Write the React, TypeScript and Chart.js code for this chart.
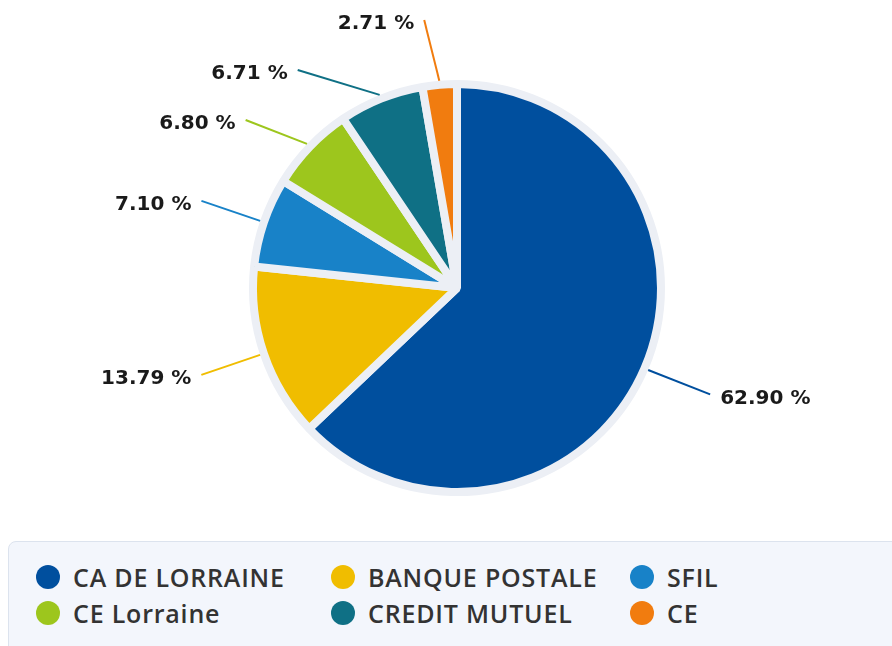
import React, { useEffect, useRef } from "react";
import { Chart, registerables } from "chart.js";

Chart.register(...registerables);

const categories = ["CA DE LORRAINE", "BANQUE POSTALE", "SFIL", "CE Lorraine", "CREDIT MUTUEL", "CE"];
const values = [62.9, 13.79, 7.1, 6.8, 6.71, 2.71];
const valueLabels = ["62.90 %", "13.79 %", "7.10 %", "6.80 %", "6.71 %", "2.71 %"];
const colors = ["#004f9e", "#f0bd00", "#1882c8", "#9dc61d", "#0f7085", "#f17c0f"];

const labelPlugin = {
  id: "pieLabels",
  afterDatasetsDraw(chart: any) {
    const ctx = chart.ctx;
    const meta = chart.getDatasetMeta(0);
    const arcs = meta.data;
    if (!arcs.length) return;
    const cx = arcs[0].x;
    const cy = arcs[0].y;
    const outer = arcs[0].outerRadius;
    const R = outer + 66;
    const gap = 50;
    const topLimit = 20;
    const items = arcs.map((a: any, i: number) => {
      const mid = (a.startAngle + a.endAngle) / 2;
      const left = Math.cos(mid) < 0;
      return { i, mid, left, y: cy + R * Math.sin(mid) };
    });
    [true, false].forEach((side) => {
      const s = items.filter((it: any) => it.left === side).sort((a: any, b: any) => a.y - b.y);
      let prev = -Infinity;
      s.forEach((it: any) => {
        it.y = Math.max(it.y, prev + gap, topLimit);
        prev = it.y;
      });
    });
    ctx.save();
    items.forEach((it: any) => {
      const dy = it.y - cy;
      const dx = Math.sqrt(Math.max(R * R - dy * dy, 0));
      const ex = cx + (it.left ? -dx : dx + 5);
      const sr = outer + 4;
      const sx = cx + sr * Math.cos(it.mid);
      const sy = cy + sr * Math.sin(it.mid);
      ctx.strokeStyle = colors[it.i];
      ctx.lineWidth = 2;
      ctx.beginPath();
      ctx.moveTo(sx, sy);
      ctx.lineTo(ex, it.y);
      ctx.stroke();
      ctx.fillStyle = "#1a1a1a";
      ctx.font = "bold 20px 'DejaVu Sans'";
      ctx.textBaseline = "middle";
      ctx.textAlign = it.left ? "right" : "left";
      ctx.fillText(valueLabels[it.i], ex + (it.left ? -10 : 10), it.y + 4);
    });
    ctx.restore();
  },
};

export default function App() {
  const ref = useRef<HTMLCanvasElement>(null);
  useEffect(() => {
    if (!ref.current) return;
    const chart = new Chart(ref.current, {
      type: "pie",
      data: {
        labels: categories,
        datasets: [
          {
            data: values,
            backgroundColor: colors,
            borderColor: "#eceff5",
            borderWidth: 8,
            hoverOffset: 0,
          },
        ],
      },
      options: {
        responsive: false,
        animation: false,
        radius: 204,
        layout: { padding: { left: 22, right: 0, top: 38, bottom: 0 } },
        plugins: { legend: { display: false }, tooltip: { enabled: false } },
      } as any,
      plugins: [labelPlugin],
    });
    return () => chart.destroy();
  }, []);

  return (
    <div style={{ position: "fixed", left: 0, top: 0, width: 892, height: 646, overflow: "hidden", background: "#ffffff" }}>
      <canvas ref={ref} width={892} height={538} style={{ position: "absolute", left: 0, top: 0 }} />
      <div
        style={{
          position: "absolute",
          left: 8,
          top: 541,
          width: 920,
          height: 140,
          boxSizing: "border-box",
          background: "#f3f6fc",
          border: "1px solid #dce3ee",
          borderRadius: 8,
        }}
      >
        {categories.map((c, i) => {
          const col = i % 3;
          const row = Math.floor(i / 3);
          const colX = [27, 322, 621][col];
          return (
            <div
              key={c}
              style={{
                position: "absolute",
                left: colX,
                top: 35 + row * 36 - 14,
                height: 28,
                display: "flex",
                alignItems: "center",
                whiteSpace: "nowrap",
              }}
            >
              <span
                style={{
                  width: 24,
                  height: 24,
                  borderRadius: "50%",
                  background: colors[i],
                  display: "inline-block",
                  marginRight: 13,
                  flex: "none",
                }}
              />
              <span
                style={{
                  fontFamily: "'Open Sans', sans-serif",
                  fontWeight: 600,
                  fontSize: 25,
                  letterSpacing: 0.8,
                  color: "#333333",
                  lineHeight: "28px",
                }}
              >
                {c}
              </span>
            </div>
          );
        })}
      </div>
    </div>
  );
}
